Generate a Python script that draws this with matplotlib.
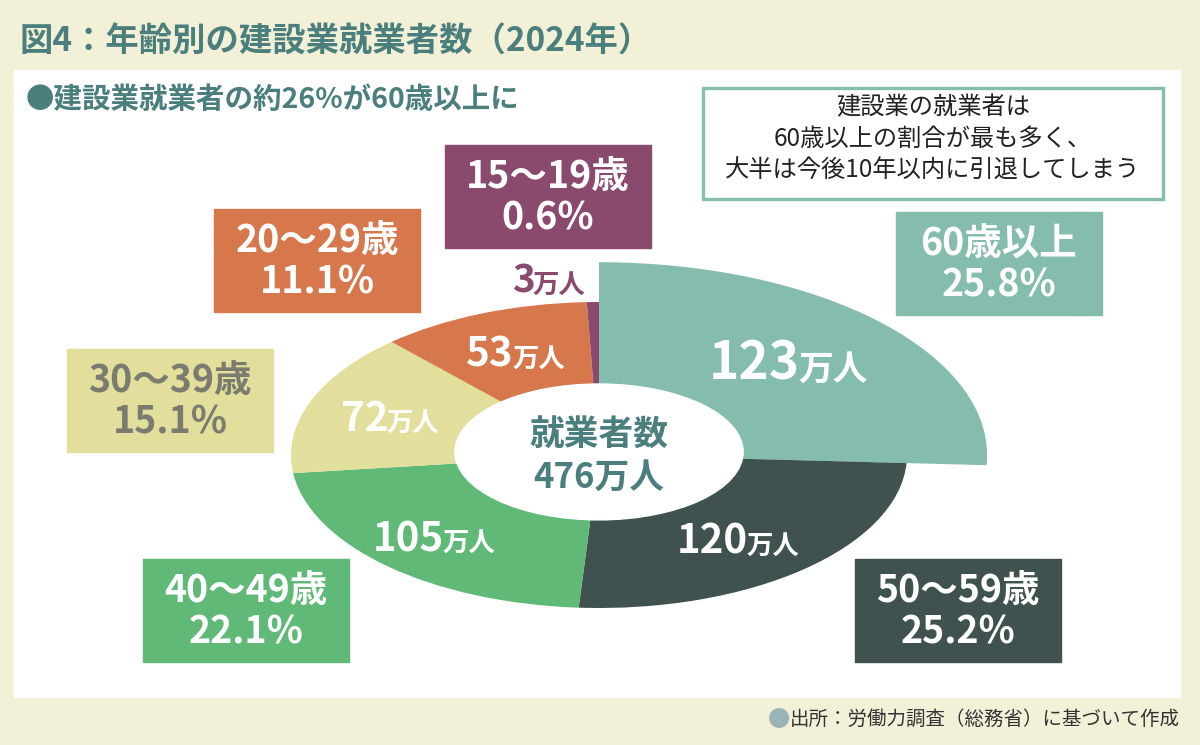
import numpy as np
import matplotlib.pyplot as plt
from matplotlib.patches import Rectangle, Ellipse

plt.rcParams['font.family'] = ['Noto Sans CJK JP', 'DejaVu Sans']

# 年齢別の建設業就業者数（2024年）, 単位: 万人
ages = ["60歳以上", "50〜59歳", "40〜49歳", "30〜39歳", "20〜29歳", "15〜19歳"]
workers = [123, 120, 105, 72, 53, 3]
shares = ["25.8%", "25.2%", "22.1%", "15.1%", "11.1%", "0.6%"]
total = 476

colors = ["#84bcad", "#3f524f", "#60b977", "#e1df9b", "#d6784b", "#8a4a6e"]
box_text_colors = ["white", "white", "white", "#7a7c70", "white", "white"]
teal = "#4a7f7d"

fig = plt.figure(figsize=(12, 7.45), dpi=100)
fig.patch.set_facecolor("#f3f0d8")

# pixel-space layer for panel, boxes and texts
bg = fig.add_axes([0, 0, 1, 1])
bg.set_xlim(0, 1200)
bg.set_ylim(745, 0)
bg.axis("off")
bg.add_patch(Rectangle((14, 70), 1166, 627, color="white", zorder=0))

bg.text(20, 42, "図4：年齢別の建設業就業者数（2024年）", fontsize=24, weight="bold",
        color=teal, va="center")
bg.text(26, 100, "●建設業就業者の約26%が60歳以上に", fontsize=20.5, weight="bold",
        color=teal, va="center")

bg.add_patch(Rectangle((703, 88), 460, 111, facecolor="white", edgecolor="#86bdaf", lw=2.4))
bg.text(933, 139, "建設業の就業者は\n60歳以上の割合が最も多く、\n大半は今後10年以内に引退してしまう",
        fontsize=17.5, ha="center", va="center", linespacing=1.3, color="#222222")

src = bg.text(1180, 719, "出所：労働力調査（総務省）に基づいて作成", fontsize=14,
              ha="right", va="center", color="#333333")
bg.annotate("●", xy=(0, 0.5), xycoords=src, ha="right", va="center",
            fontsize=16, color="#9ab3b6")

# label boxes
box_pos = [(896, 212), (855, 559), (143, 559), (67, 349), (214, 209), (445, 145)]
bw, bh = 206, 103
for (x, y), age, share, c, tc in zip(box_pos, ages, shares, colors, box_text_colors):
    bg.add_patch(Rectangle((x, y), bw, bh, color=c))
    bg.text(x + bw / 2, y + bh / 2 + 1, f"{age}\n{share}", fontsize=27, weight="bold",
            color=tc, ha="center", va="center", linespacing=1.08)

# elliptical donut
cx, cy, rx, ry = 599, 455, 308, 153
lim = 1.32
ax = fig.add_axes([(cx - lim * rx) / 1200, (745 - cy - lim * ry) / 745,
                   2 * lim * rx / 1200, 2 * lim * ry / 745])
wedges, _ = ax.pie(workers, colors=colors, startangle=90, counterclock=False,
                   wedgeprops=dict(linewidth=0))
wedges[0].set_radius(1.26)
ax.add_patch(Ellipse((0, 0.02), 0.936, 0.888, color="white", zorder=5))
ax.set_aspect("auto")
ax.set_xlim(-lim, lim)
ax.set_ylim(-lim, lim)
ax.axis("off")

for i, (w, v) in enumerate(zip(wedges, workers)):
    mid = np.deg2rad((w.theta1 + w.theta2) / 2)
    r = 0.9 if i == 0 else 0.73
    px, py = r * np.cos(mid), r * np.sin(mid)
    nsize, usize, drop = 29, 19, -11
    tc = "white"
    if i == 0:
        nsize, usize, drop = 37, 25, -14
    if i == len(workers) - 1:
        px, py = -0.21, 1.16
        nsize, usize, tc = 28, 19, colors[-1]
    ax.annotate(str(v), xy=(px, py), xytext=(0, drop), textcoords="offset points",
                ha="right", va="baseline", fontsize=nsize, weight="bold", color=tc, zorder=6)
    ax.annotate("万人", xy=(px, py), xytext=(-1, drop), textcoords="offset points",
                ha="left", va="baseline", fontsize=usize, weight="bold", color=tc, zorder=6)

ax.text(0, 0.13, "就業者数", fontsize=25, weight="bold", color=teal,
        ha="center", va="center", zorder=6)
ax.text(0, -0.145, f"{total}万人", fontsize=25, weight="bold", color=teal,
        ha="center", va="center", zorder=6)

fig.savefig("out.png", dpi=100, facecolor=fig.get_facecolor())
